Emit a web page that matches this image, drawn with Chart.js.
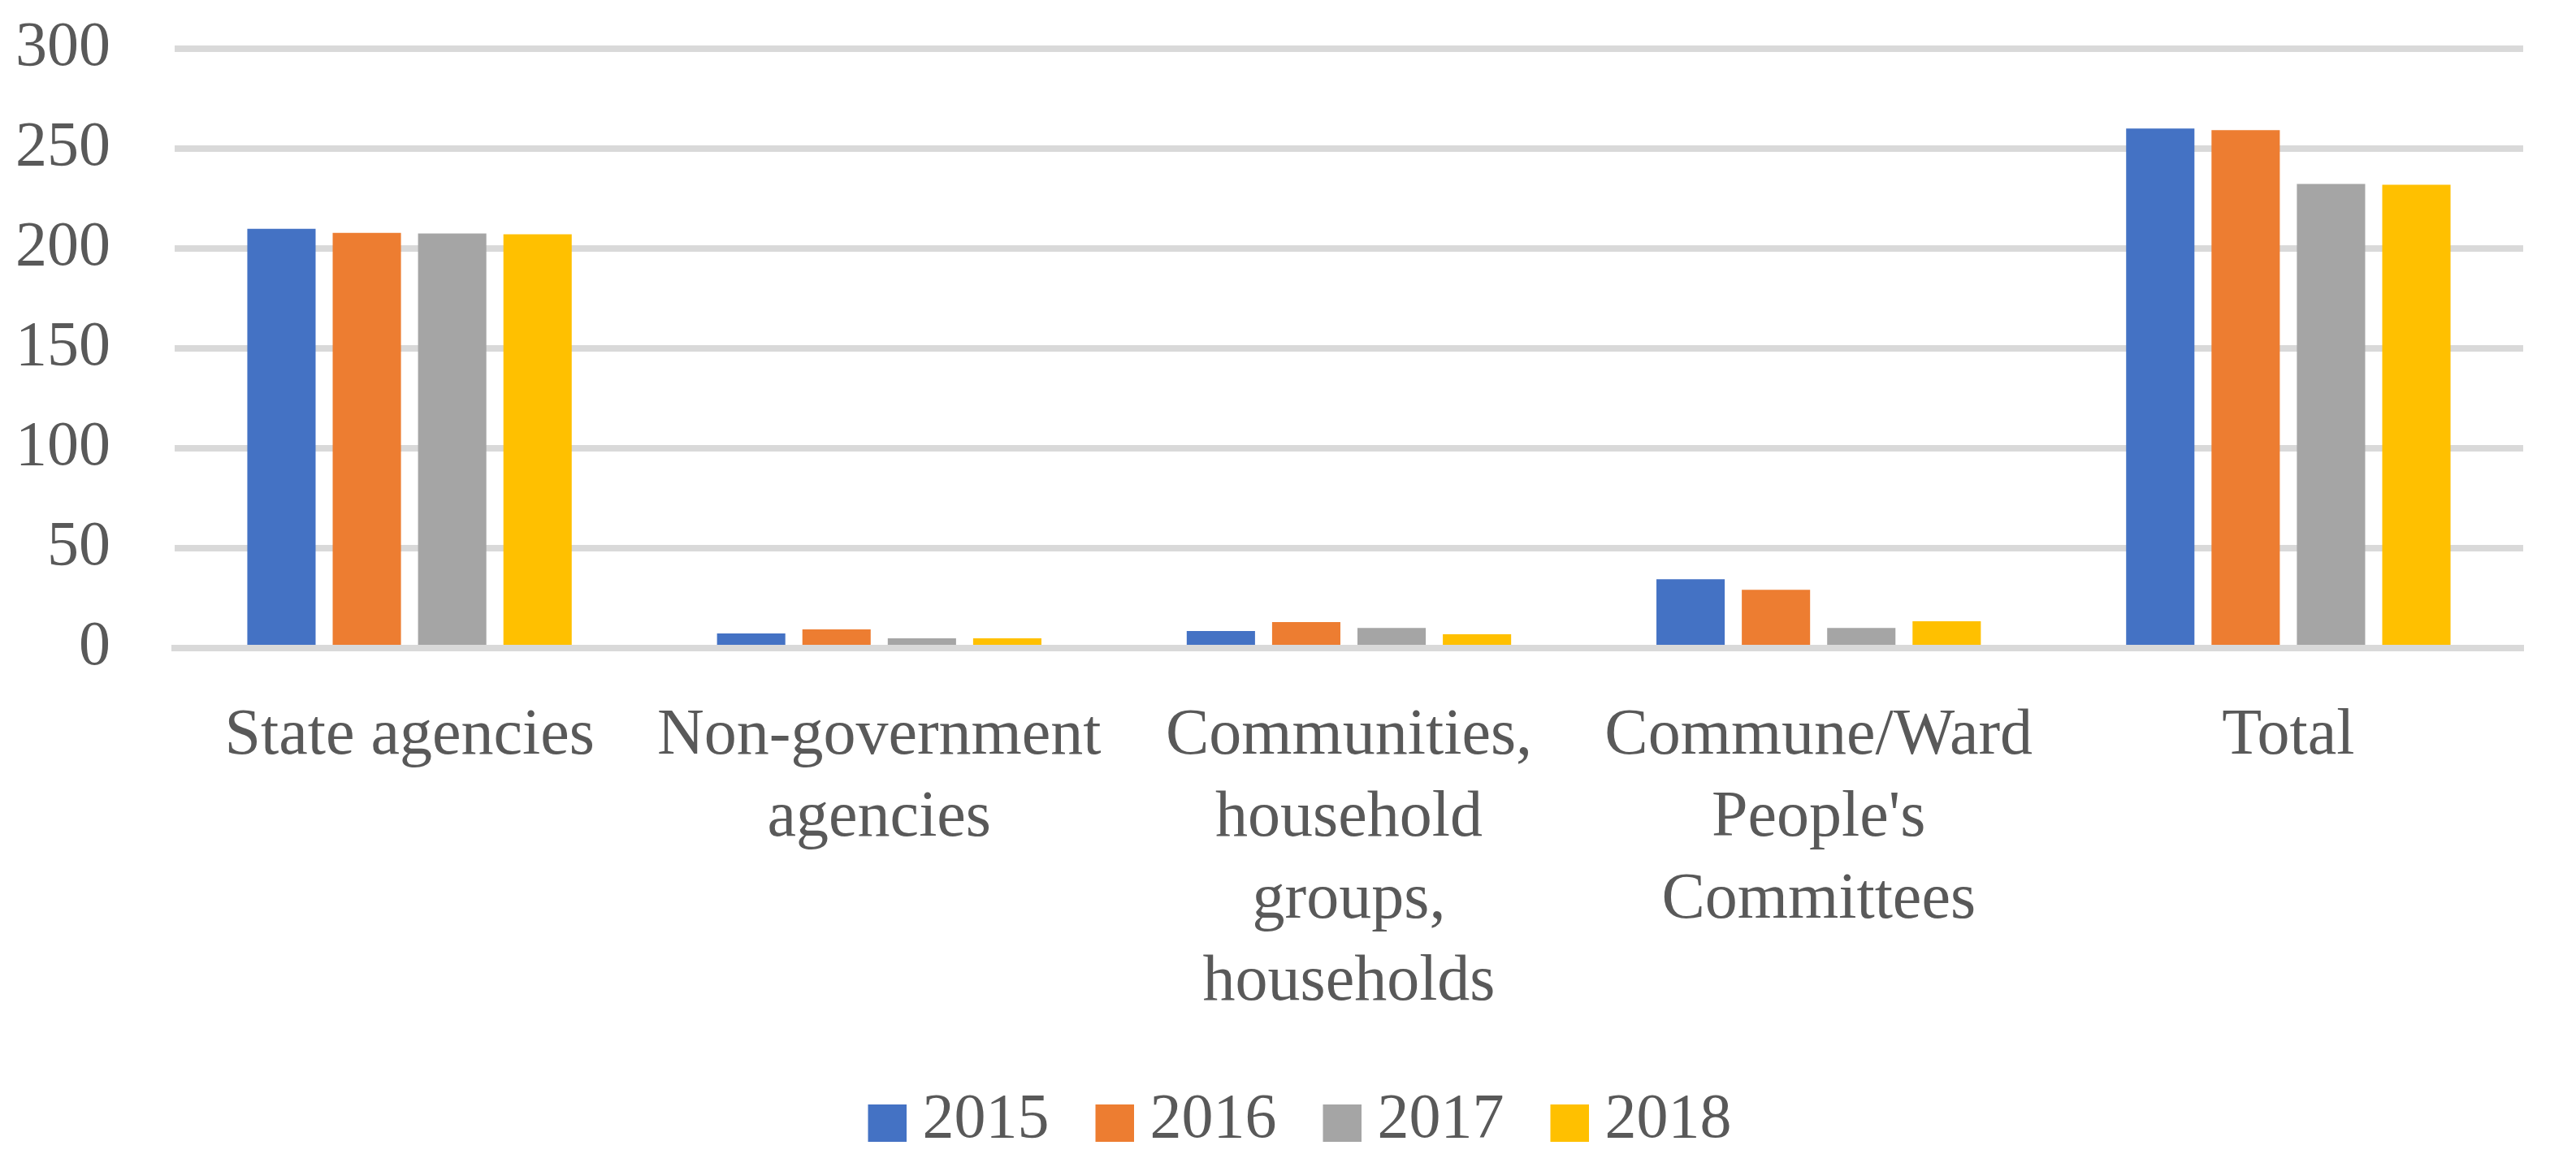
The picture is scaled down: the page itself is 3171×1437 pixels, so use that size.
<!DOCTYPE html>
<html>
<head>
<meta charset="utf-8">
<script src="https://cdn.jsdelivr.net/npm/chart.js@4/dist/chart.umd.min.js"></script>
<style>
    html, body { margin: 0; padding: 0; background: #ffffff; }
    #wrap { width: 3171px; height: 1437px; position: relative; }
</style>
</head>
<body>
<div id="wrap"><canvas id="mainChart"></canvas></div>
<script>
// Categories (wrapped the way the original chart wraps them)
const categories = [
    'State agencies',
    ['Non-government', 'agencies'],
    ['Communities,', 'household', 'groups,', 'households'],
    ['Commune/Ward', "People's", 'Committees'],
    'Total'
];

const years = ['2015', '2016', '2017', '2018'];

// Values
const values2015 = [209.9, 7.3, 8.5, 34.5, 260.1];
const values2016 = [207.8, 9.3, 13.0, 29.2, 259.2];
const values2017 = [207.5, 4.9, 10.1, 10.1, 232.3];
const values2018 = [207.1, 4.9, 6.9, 13.4, 231.9];

const yTicks = [0, 50, 100, 150, 200, 250, 300];

const seriesColors = ['#4472C4', '#ED7D31', '#A5A5A5', '#FFC000'];
const textColor = '#595959';
const gridColor = '#D9D9D9';
const fontFamily = "'Liberation Serif', 'DejaVu Serif', serif";

// Legend swatch: a square drawn off-centre inside a small canvas, so the
// text can sit closer to the square than Chart.js normally allows
function makeSwatch(color) {
    const c = document.createElement('canvas');
    c.width = 66;
    c.height = 52;
    const g = c.getContext('2d');
    g.fillStyle = color;
    g.fillRect(19, 6, 47, 46);
    return c;
}

// The original legend sits a bit right of the canvas centre
const legendShift = {
    id: 'legendShift',
    afterLayout(chart) {
        const lg = chart.legend;
        if (lg) {
            lg.left += 47;
            lg.right += 47;
        }
    }
};

document.addEventListener('DOMContentLoaded', function() {
    const ctx = document.getElementById('mainChart');
    const seriesValues = [values2015, values2016, values2017, values2018];
    const swatches = seriesColors.map(makeSwatch);

    new Chart(ctx, {
        type: 'bar',
        data: {
            labels: categories,
            datasets: years.map((year, i) => ({
                label: year,
                data: seriesValues[i],
                backgroundColor: seriesColors[i],
                borderWidth: 0,
                categoryPercentage: 0.727,
                barPercentage: 0.8
            }))
        },
        plugins: [legendShift],
        options: {
            responsive: true,
            maintainAspectRatio: false,
            devicePixelRatio: 1,
            animation: false,
            layout: {
                padding: { top: 60, right: 65, bottom: 8, left: 0 }
            },
            plugins: {
                legend: {
                    position: 'bottom',
                    labels: {
                        color: textColor,
                        font: { family: fontFamily, size: 78 },
                        usePointStyle: true,
                        pointStyleWidth: 28,
                        boxHeight: 46,
                        padding: 57,
                        generateLabels: function(chart) {
                            const items = Chart.defaults.plugins.legend.labels.generateLabels(chart);
                            items.forEach(item => {
                                item.pointStyle = swatches[item.datasetIndex];
                            });
                            return items;
                        }
                    }
                },
                tooltip: { enabled: false }
            },
            scales: {
                x: {
                    z: 1, // axis line sits on top of the bar bottoms, as in the original
                    grid: { display: false, drawTicks: false },
                    border: { display: true, color: gridColor, width: 8 },
                    ticks: {
                        color: textColor,
                        font: { family: fontFamily, size: 80, lineHeight: 1.2625 },
                        padding: 58,
                        maxRotation: 0,
                        autoSkip: false
                    },
                    afterFit: function(scale) {
                        scale.height -= 34; // legend is taller, keep plot bottom where it was
                    }
                },
                y: {
                    min: 0,
                    max: 300,
                    afterBuildTicks: function(scale) {
                        scale.ticks = yTicks.map(v => ({ value: v }));
                    },
                    // invisible tick marks push the labels left without adding vertical padding
                    grid: {
                        color: gridColor,
                        lineWidth: 8,
                        drawTicks: true,
                        tickLength: 79,
                        tickColor: 'rgba(0,0,0,0)'
                    },
                    border: { display: false },
                    ticks: {
                        color: textColor,
                        font: { family: fontFamily, size: 78 },
                        padding: 0
                    },
                    afterFit: function(scale) {
                        scale.width = 215;
                    }
                }
            }
        }
    });
});
</script>
</body>
</html>
